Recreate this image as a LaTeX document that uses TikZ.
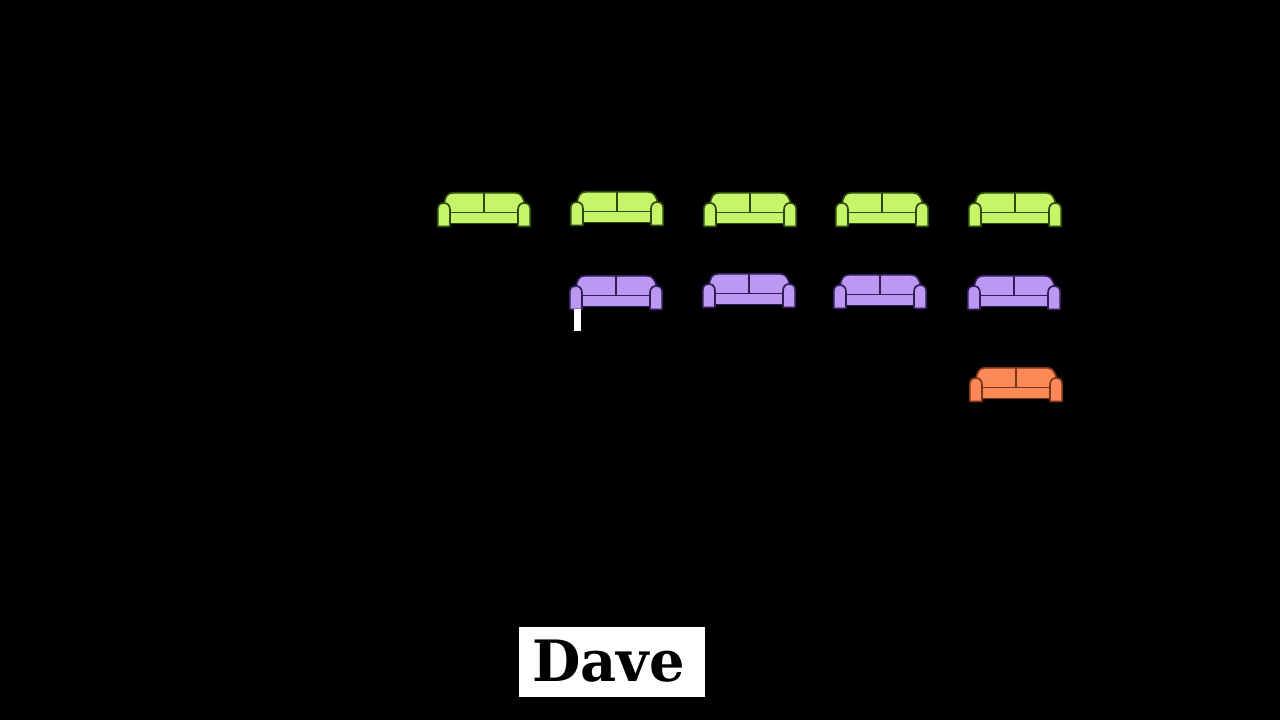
\documentclass[tikz,border=0pt]{standalone}
\usepackage{fontspec}
\newfontfamily\davefont{DejaVu Serif}[BoldFont={DejaVu Serif Bold}]
\definecolor{lime}{HTML}{C6F56A}
\definecolor{limeline}{HTML}{2F4A10}
\definecolor{lilac}{HTML}{BC98F2}
\definecolor{lilacline}{HTML}{2E1E55}
\definecolor{coral}{HTML}{FB8A58}
\definecolor{coralline}{HTML}{7A3418}
\tikzset{
  pics/sofa/.style n args={2}{code={
    \tikzset{every path/.style={draw=#2,fill=#1,line width=1.7pt,line join=round}}
    % back
    \path (7,24) -- (7,12) .. controls (8,5) and (10,0.8) .. (16,0.8) -- (78,0.8) .. controls (84,0.8) and (86,5) .. (88,12) -- (88,24) -- cycle;
    % seat
    \path (12,20.5) rectangle (82,31.5);
    % divider
    \draw[fill=none] (47,0.8) -- (47,20.5);
    % arms
    \path (0.8,34.4) -- (0.8,17) .. controls (0.8,13) and (3,11) .. (7,11) .. controls (11,11) and (13,14) .. (13,18) -- (13,34.4) -- cycle;
    \path (81,34.4) -- (81,18) .. controls (81,14) and (83,11) .. (87,11) .. controls (91,11) and (93.2,13) .. (93.2,17) -- (93.2,34.4) -- cycle;
  }}
}
\begin{document}
\begin{tikzpicture}[x=1pt,y=-1pt]
\useasboundingbox[fill=black] (0,0) rectangle (1280,720);
\foreach \px/\py in {437/192,570/191,703/192,835/192,968/192}
  \pic at (\px,\py) {sofa={lime}{limeline}};
\foreach \px/\py in {569/275,702/273,833/274,967/275}
  \pic at (\px,\py) {sofa={lilac}{lilacline}};
\pic at (969,367) {sofa={coral}{coralline}};
\fill[white] (574,309) rectangle (581,331);
\fill[white] (519,627) rectangle (705,697);
\node[text=black,inner sep=0pt,font=\davefont\bfseries\fontsize{57}{57}\selectfont,xscale=0.98] (dave) at (608.5,661) {Dave};
\end{tikzpicture}
\end{document}
